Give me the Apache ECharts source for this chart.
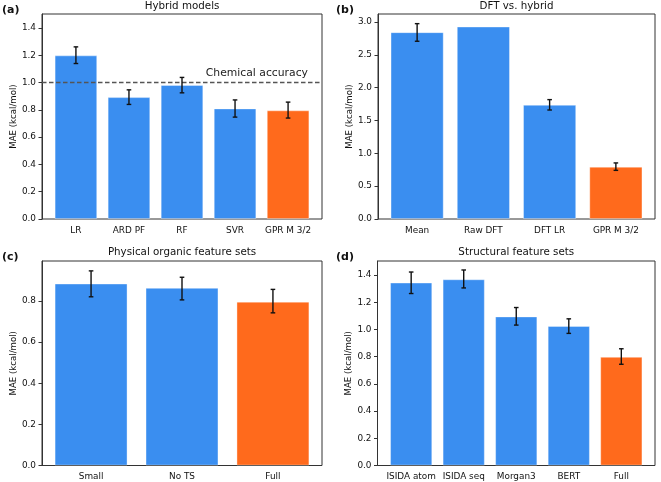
<!DOCTYPE html>
<html>
<head>
<meta charset="utf-8">
<script src="https://cdn.jsdelivr.net/npm/echarts@6/dist/echarts.min.js"></script>
<style>html,body{margin:0;padding:0;background:#fff}#c{width:661px;height:482px}</style>
</head>
<body>
<div id="c"></div>
<script>
// ---- data ----
const catsA = ['LR', 'ARD PF', 'RF', 'SVR', 'GPR M 3/2'];
const valsA = [1.199, 0.893, 0.982, 0.810, 0.796];
const lowA  = [1.140, 0.840, 0.925, 0.747, 0.740];
const highA = [1.262, 0.947, 1.038, 0.873, 0.857];
const chemAccuracy = 1.0;

const catsB = ['Mean', 'Raw DFT', 'DFT LR', 'GPR M 3/2'];
const valsB = [2.844, 2.930, 1.738, 0.795];
const lowB  = [2.707, null, 1.660, 0.741];
const highB = [2.975, null, 1.818, 0.854];

const catsC = ['Small', 'No TS', 'Full'];
const valsC = [0.884, 0.863, 0.796];
const lowC  = [0.820, 0.805, 0.742];
const highC = [0.946, 0.915, 0.856];

const catsD = ['ISIDA atom', 'ISIDA seq', 'Morgan3', 'BERT', 'Full'];
const valsD = [1.344, 1.368, 1.095, 1.025, 0.798];
const lowD  = [1.264, 1.305, 1.032, 0.971, 0.744];
const highD = [1.422, 1.437, 1.161, 1.078, 0.858];

const titles = ['Hybrid models', 'DFT vs. hybrid', 'Physical organic feature sets', 'Structural feature sets'];
const panelLabels = ['(a)', '(b)', '(c)', '(d)'];
const yLabel = 'MAE (kcal/mol)';

// ---- styling / layout ----
const BLUE = '#3a8ef0', ORANGE = '#ff6a1c', AXIS = '#333';
const FONT = '"DejaVu Sans", sans-serif';
const TICK_FS = 8.9;
// outer frames (matplotlib axes boxes)
const frames = [
  {left: 42, right: 339, top: 14, bottom: 263},
  {left: 378, right: 6, top: 14, bottom: 263},
  {left: 42, right: 339, top: 261, bottom: 16.5},
  {left: 377.5, right: 6, top: 261, bottom: 16.5}
];
// inset (in px) of the category bands inside each frame (matplotlib x margins)
const insets = [7.4, 6.0, 3.6, 7.4];
const yMax = [1.503, 3.122, 0.994, 1.503];
const yInt = [0.2, 0.5, 0.2, 0.2];
const nameGaps = [21, 22, 21, 21.5];
const titleY = [1.5, 1.5, 247.5, 247.5];
const labelPos = [{x: 2, y: 5}, {x: 336, y: 5}, {x: 2, y: 252}, {x: 336, y: 252}];

const panels = [
  {cats: catsA, vals: valsA, low: lowA, high: highA},
  {cats: catsB, vals: valsB, low: lowB, high: highB},
  {cats: catsC, vals: valsC, low: lowC, high: highC},
  {cats: catsD, vals: valsD, low: lowD, high: highD}
];

const option = {
  animation: false,
  backgroundColor: '#fff',
  textStyle: {fontFamily: FONT},
  title: [],
  grid: [], xAxis: [], yAxis: [], series: []
};

panels.forEach((p, i) => {
  const f = frames[i];
  const fg = option.grid.length;
  option.grid.push({show: true, borderColor: AXIS, borderWidth: 1, backgroundColor: 'transparent',
    left: f.left, right: f.right, top: f.top, bottom: f.bottom});
  const dg = option.grid.length;
  option.grid.push({left: f.left + insets[i], right: f.right + insets[i], top: f.top, bottom: f.bottom});

  const cx = f.left + (661 - f.right - f.left) / 2;
  option.title.push({
    text: titles[i], left: cx, top: titleY[i], textAlign: 'center', padding: 0,
    textStyle: {fontFamily: FONT, fontSize: 10.3, fontWeight: 'normal', color: '#111'}
  });
  option.title.push({
    text: panelLabels[i], left: labelPos[i].x, top: labelPos[i].y, padding: 0,
    textStyle: {fontFamily: FONT, fontSize: 11, fontWeight: 'bold', color: '#111'}
  });

  // frame grid axes: y axis with ticks/labels, hidden x
  const fx = option.xAxis.length;
  option.xAxis.push({type: 'value', gridIndex: fg, min: 0, max: 1, show: false});
  const fy = option.yAxis.length;
  option.yAxis.push({
    type: 'value', gridIndex: fg, min: 0, max: yMax[i], interval: yInt[i],
    name: yLabel, nameLocation: 'middle', nameGap: nameGaps[i], nameRotate: 90,
    nameTextStyle: {fontFamily: FONT, fontSize: 8.6, color: '#111'},
    axisLine: {show: true, lineStyle: {color: AXIS}}, axisTick: {show: true, length: 3.5, lineStyle: {color: AXIS}},
    axisLabel: {fontFamily: FONT, fontSize: TICK_FS, color: '#111', margin: 6, showMaxLabel: false,
      formatter: v => v.toFixed(1)},
    splitLine: {show: false}
  });
  // data grid axes
  const dx = option.xAxis.length;
  option.xAxis.push({
    type: 'category', gridIndex: dg, data: p.cats,
    axisLine: {show: false}, axisTick: {alignWithLabel: true, length: 3.5, lineStyle: {color: AXIS}},
    axisLabel: {fontFamily: FONT, fontSize: TICK_FS, color: '#111', margin: 7, interval: 0},
    splitLine: {show: false}
  });
  const dy = option.yAxis.length;
  option.yAxis.push({type: 'value', gridIndex: dg, min: 0, max: yMax[i], interval: yInt[i], show: false, splitLine: {show: false}});

  if (i === 0) {
    option.series.push({
      type: 'line', xAxisIndex: fx, yAxisIndex: fy, data: [], silent: true,
      markLine: {
        silent: true, symbol: 'none',
        lineStyle: {type: [4.5, 2.5], color: '#555', width: 1.3},
        label: {show: true, position: 'insideEndTop', formatter: 'Chemical accuracy', fontFamily: FONT, fontSize: 10.8, color: '#222', distance: [14, 4]},
        data: [{yAxis: chemAccuracy}]
      }
    });
  }

  const n = p.cats.length;
  option.series.push({
    type: 'bar', xAxisIndex: dx, yAxisIndex: dy, data: p.vals, barCategoryGap: '20%',
    itemStyle: {color: q => q.dataIndex === n - 1 ? ORANGE : BLUE, borderColor: 'rgba(255,255,255,0.45)', borderWidth: 0.8},
    z: 2
  });
  const errData = [];
  p.low.forEach((lo, k) => { if (lo !== null) errData.push([k, lo, p.high[k]]); });
  option.series.push({
    type: 'custom', xAxisIndex: dx, yAxisIndex: dy, data: errData, z: 5,
    renderItem: (params, api) => {
      const x = api.value(0);
      const a = api.coord([x, api.value(1)]);
      const b = api.coord([x, api.value(2)]);
      const hw = 2.3;
      const st = {stroke: '#111', lineWidth: 1.4};
      return {type: 'group', children: [
        {type: 'line', shape: {x1: a[0], y1: a[1], x2: b[0], y2: b[1]}, style: st},
        {type: 'line', shape: {x1: a[0] - hw, y1: a[1], x2: a[0] + hw, y2: a[1]}, style: st},
        {type: 'line', shape: {x1: b[0] - hw, y1: b[1], x2: b[0] + hw, y2: b[1]}, style: st}
      ]};
    }
  });
});

const chart = echarts.init(document.getElementById('c'), null, {renderer: 'canvas'});
chart.setOption(option);
</script>
</body>
</html>
